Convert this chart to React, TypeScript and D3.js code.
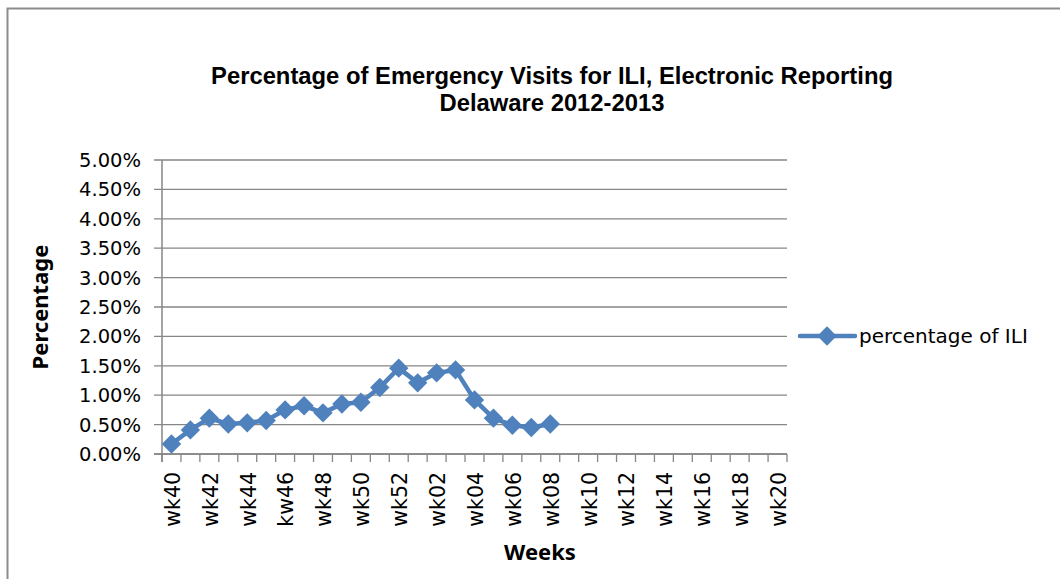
import { useEffect, useRef } from "react";
import * as d3 from "d3";

const weeks = [
  "wk40", "wk41", "wk42", "wk43", "wk44", "wk45", "kw46", "wk47", "wk48", "wk49",
  "wk50", "wk51", "wk52", "wk01", "wk02", "wk03", "wk04", "wk05", "wk06", "wk07",
  "wk08", "wk09", "wk10", "wk11", "wk12", "wk13", "wk14", "wk15", "wk16", "wk17",
  "wk18", "wk19", "wk20",
];

// percentage of ILI (only reported through wk08)
const iliValues = [
  0.0017, 0.0041, 0.0061, 0.0051, 0.0053, 0.0057, 0.0075, 0.0082, 0.007, 0.0085,
  0.0088, 0.0113, 0.0146, 0.0121, 0.0138, 0.0143, 0.0092, 0.0061, 0.0049, 0.0045,
  0.0051,
];

const yTicks = [0, 0.005, 0.01, 0.015, 0.02, 0.025, 0.03, 0.035, 0.04, 0.045, 0.05];

const seriesName = "percentage of ILI";
const titleLines = [
  "Percentage of Emergency Visits for ILI, Electronic Reporting",
  "Delaware 2012-2013",
];

const W = 1060;
const H = 579;
const BLUE = "#4F81BD";
const GRID = "#868686";
const FONT = "'DejaVu Sans', 'Noto Sans', sans-serif";
const BOLD_FONT = "'Noto Sans', 'Open Sans', sans-serif";

const App = () => {
  const svgRef = useRef<SVGSVGElement>(null);

  useEffect(() => {
    const svg = d3.select(svgRef.current);
    svg.selectAll("*").remove();

    const plot = { left: 162, right: 787, top: 160, bottom: 454 };

    // chart border
    svg
      .append("rect")
      .attr("x", 7.5)
      .attr("y", 8.5)
      .attr("width", W + 20)
      .attr("height", H + 20)
      .attr("fill", "#fff")
      .attr("stroke", "#8c8c8c")
      .attr("stroke-width", 2);

    const x = d3
      .scaleBand()
      .domain(weeks)
      .range([plot.left, plot.right])
      .padding(0);

    const y = d3
      .scaleLinear()
      .domain([0, 0.05])
      .range([plot.bottom, plot.top]);

    // grid lines
    svg
      .append("g")
      .selectAll("line")
      .data(yTicks)
      .enter()
      .append("line")
      .attr("x1", plot.left - 8)
      .attr("x2", plot.right)
      .attr("y1", (d) => y(d))
      .attr("y2", (d) => y(d))
      .attr("stroke", GRID)
      .attr("stroke-width", 1.3);

    // y axis line
    svg
      .append("line")
      .attr("x1", plot.left)
      .attr("x2", plot.left)
      .attr("y1", plot.top)
      .attr("y2", plot.bottom + 8)
      .attr("stroke", GRID)
      .attr("stroke-width", 1.5);

    // y tick labels
    svg
      .append("g")
      .selectAll("text")
      .data(yTicks)
      .enter()
      .append("text")
      .attr("x", plot.left - 21)
      .attr("y", (d) => y(d))
      .attr("dy", "0.36em")
      .attr("text-anchor", "end")
      .attr("font-family", FONT)
      .attr("font-size", 19.5)
      .attr("fill", "#000")
      .text((d) => d3.format(".2%")(d));

    // x category tick marks (between categories)
    const bounds = weeks.map((w) => x(w) as number).concat([plot.right]);
    svg
      .append("g")
      .selectAll("line")
      .data(bounds)
      .enter()
      .append("line")
      .attr("x1", (d) => d)
      .attr("x2", (d) => d)
      .attr("y1", plot.bottom)
      .attr("y2", plot.bottom + 8)
      .attr("stroke", GRID)
      .attr("stroke-width", 1.3);

    // x axis line
    svg
      .append("line")
      .attr("x1", plot.left - 8)
      .attr("x2", plot.right)
      .attr("y1", plot.bottom)
      .attr("y2", plot.bottom)
      .attr("stroke", GRID)
      .attr("stroke-width", 1.5);

    // x labels, every other week, rotated
    const cx = (w: string) => (x(w) as number) + x.bandwidth() / 2;
    svg
      .append("g")
      .selectAll("text")
      .data(weeks.filter((_w, i) => i % 2 === 0))
      .enter()
      .append("text")
      .attr("transform", (d) => `translate(${cx(d) + 1},${plot.bottom + 18}) rotate(-90)`)
      .attr("dy", "0.36em")
      .attr("text-anchor", "end")
      .attr("font-family", FONT)
      .attr("font-size", 20.5)
      .attr("fill", "#000")
      .text((d) => d);

    // series line
    const pts = iliValues.map((v, i) => ({ w: weeks[i], v }));
    const line = d3
      .line<{ w: string; v: number }>()
      .x((d) => cx(d.w))
      .y((d) => y(d.v));
    svg
      .append("path")
      .datum(pts)
      .attr("d", line)
      .attr("fill", "none")
      .attr("stroke", BLUE)
      .attr("stroke-width", 4.5)
      .attr("stroke-linejoin", "round");

    const diamond = d3.symbol().type(d3.symbolDiamond2).size(240);
    svg
      .append("g")
      .selectAll("path")
      .data(pts)
      .enter()
      .append("path")
      .attr("transform", (d) => `translate(${cx(d.w)},${y(d.v)})`)
      .attr("d", diamond)
      .attr("fill", BLUE);

    // legend
    const ly = 336;
    svg
      .append("line")
      .attr("x1", 800)
      .attr("x2", 855)
      .attr("y1", ly)
      .attr("y2", ly)
      .attr("stroke", BLUE)
      .attr("stroke-width", 4.5)
      .attr("stroke-linecap", "round");
    svg
      .append("path")
      .attr("transform", `translate(827,${ly})`)
      .attr("d", diamond)
      .attr("fill", BLUE);
    svg
      .append("text")
      .attr("x", 859)
      .attr("y", ly)
      .attr("dy", "0.36em")
      .attr("font-family", FONT)
      .attr("font-size", 20)
      .attr("fill", "#000")
      .text(seriesName);

    // title
    svg
      .append("g")
      .selectAll("text")
      .data(titleLines)
      .enter()
      .append("text")
      .attr("x", 552)
      .attr("y", (_d, i) => 84 + i * 27)
      .attr("text-anchor", "middle")
      .attr("font-family", "'Liberation Sans', Arial, sans-serif")
      .attr("font-weight", "bold")
      .attr("font-size", 23.8)
      .attr("fill", "#000")
      .text((d) => d);

    // axis titles
    svg
      .append("text")
      .attr("transform", `translate(40,${(plot.top + plot.bottom) / 2}) rotate(-90)`)
      .attr("dy", "0.36em")
      .attr("text-anchor", "middle")
      .attr("font-family", BOLD_FONT)
      .attr("font-weight", "bold")
      .attr("font-size", 22)
      .attr("fill", "#000")
      .text("Percentage");

    svg
      .append("text")
      .attr("x", 540)
      .attr("y", 552)
      .attr("dy", "0.36em")
      .attr("text-anchor", "middle")
      .attr("font-family", BOLD_FONT)
      .attr("font-weight", "bold")
      .attr("font-size", 22)
      .attr("fill", "#000")
      .text("Weeks");
  }, []);

  return (
    <svg
      ref={svgRef}
      width={W}
      height={H}
      style={{ position: "absolute", left: 0, top: 0, display: "block" }}
    />
  );
};

export default App;
